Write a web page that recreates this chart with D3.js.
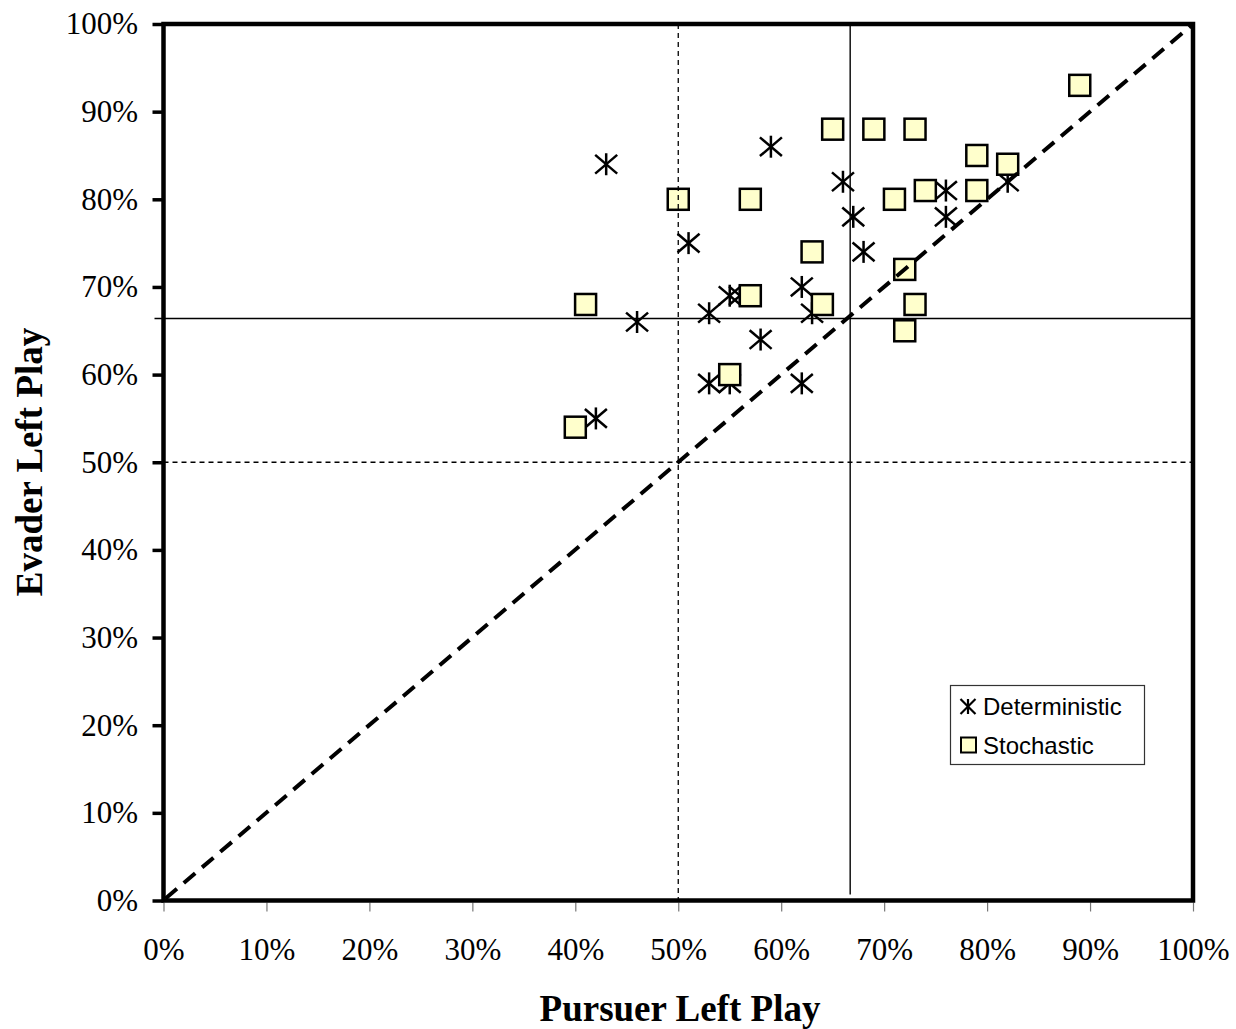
<!DOCTYPE html>
<html>
<head>
<meta charset="utf-8">
<script src="https://cdn.jsdelivr.net/npm/d3@7"></script>
<style>
html,body{margin:0;padding:0;background:#fff;}
svg{display:block;}
</style>
</head>
<body>
<svg id="chart" width="1236" height="1029"></svg>
<script>
// ---- data ----
const xTicks = [0,10,20,30,40,50,60,70,80,90,100];
const yTicks = [0,10,20,30,40,50,60,70,80,90,100];
const detX = [43,59,51,46,53,55,56,58,53,55,62,62,63,42,66,67,68,76,76,82];
const detY = [84,86,75,66,67,69,69,64,59,59,59,70,67,55,82,78,74,81,78,82];
const stoX = [89,65,69,73,79,82,74,79,71,50,57,63,72,57,64,41,73,72,55,40];
const stoY = [93,88,88,88,85,84,81,81,80,80,80,74,72,69,68,68,68,65,60,54];
const refHalf = 50;
const refXLine = 66.7;
const refYLine = 66.4;
const seriesNames = ["Deterministic","Stochastic"];
const xTitle = "Pursuer Left Play";
const yTitle = "Evader Left Play";

const svg = d3.select("#chart");
const x = d3.scaleLinear().domain([0,100]).range([163.5,1193]);
const y = d3.scaleLinear().domain([0,100]).range([900.5,24]);
const serif = "'Liberation Serif','Times New Roman',serif";
const sans = "'Liberation Sans',Arial,sans-serif";

// x axis ticks (thin gray, below)
const xAxis = d3.axisBottom(x).tickValues(xTicks).tickSize(9).tickPadding(26.5).tickFormat(d=>d+"%");
const gx = svg.append("g").attr("transform","translate(0,902.5)").call(xAxis);
gx.select(".domain").remove();
gx.selectAll(".tick line").attr("stroke","#777").attr("stroke-width",1.2);
gx.selectAll(".tick text").attr("font-family",serif).attr("font-size",31).attr("fill","#000");

// y axis ticks (thick, left)
const yAxis = d3.axisLeft(y).tickValues(yTicks).tickSize(11).tickPadding(14.5).tickFormat(d=>d+"%");
const gy = svg.append("g").attr("transform","translate(163.5,0)").call(yAxis);
gy.select(".domain").remove();
gy.selectAll(".tick line").attr("stroke","#000").attr("stroke-width",3.5);
gy.selectAll(".tick text").attr("font-family",serif).attr("font-size",31).attr("fill","#000");

// markers: deterministic asterisks
const s = 11;
const det = svg.append("g");
detX.forEach((v,i)=>{
  const g = det.append("g").attr("transform",`translate(${x(v)},${y(detY[i])})`)
    .attr("stroke","#000").attr("stroke-width",2.5);
  g.append("line").attr("x1",0).attr("y1",-s).attr("x2",0).attr("y2",s);
  g.append("line").attr("x1",-s).attr("y1",-s*0.85).attr("x2",s).attr("y2",s*0.85);
  g.append("line").attr("x1",-s).attr("y1",s*0.85).attr("x2",s).attr("y2",-s*0.85);
});

// markers: stochastic squares
const q = 21;
svg.append("g").selectAll("rect").data(stoX).join("rect")
  .attr("x",d=>x(d)-q/2).attr("y",(d,i)=>y(stoY[i])-q/2)
  .attr("width",q).attr("height",q)
  .attr("fill","#FFFFCC").attr("stroke","#000").attr("stroke-width",2.5);

// reference lines
const lines = svg.append("g");
lines.append("line").attr("x1",x(refHalf)).attr("x2",x(refHalf)).attr("y1",y(100)).attr("y2",y(0))
  .attr("stroke","#000").attr("stroke-width",1.3).attr("stroke-dasharray","5,4");
lines.append("line").attr("x1",x(0)).attr("x2",x(100)).attr("y1",y(refHalf)).attr("y2",y(refHalf))
  .attr("stroke","#000").attr("stroke-width",1.3).attr("stroke-dasharray","5,4");
lines.append("line").attr("x1",x(refXLine)).attr("x2",x(refXLine)).attr("y1",y(100)).attr("y2",y(0)-6)
  .attr("stroke","#000").attr("stroke-width",1.4);
lines.append("line").attr("x1",x(0)-9).attr("x2",x(100)).attr("y1",y(refYLine)).attr("y2",y(refYLine))
  .attr("stroke","#000").attr("stroke-width",1.4);
lines.append("line").attr("x1",x(0)+2).attr("y1",y(0)-2).attr("x2",x(100)).attr("y2",y(100))
  .attr("stroke","#000").attr("stroke-width",4).attr("stroke-dasharray","15,9");

// frame
svg.append("rect").attr("x",x(0)).attr("y",y(100)).attr("width",x(100)-x(0)).attr("height",y(0)-y(100))
  .attr("fill","none").attr("stroke","#000").attr("stroke-width",4.5);

// legend
const lg = svg.append("g");
lg.append("rect").attr("x",950.5).attr("y",685.5).attr("width",194).attr("height",79)
  .attr("fill","#fff").attr("stroke","#333").attr("stroke-width",1.2);
const la = lg.append("g").attr("transform","translate(968,706.5)").attr("stroke","#000").attr("stroke-width",2.2);
const ls = 7.5;
la.append("line").attr("x1",0).attr("y1",-ls).attr("x2",0).attr("y2",ls);
la.append("line").attr("x1",-ls).attr("y1",-ls).attr("x2",ls).attr("y2",ls);
la.append("line").attr("x1",-ls).attr("y1",ls).attr("x2",ls).attr("y2",-ls);
lg.append("rect").attr("x",961).attr("y",737.5).attr("width",15).attr("height",15)
  .attr("fill","#FFFFCC").attr("stroke","#000").attr("stroke-width",2);
lg.append("text").attr("x",983).attr("y",715).text(seriesNames[0])
  .attr("font-family",sans).attr("font-size",24).attr("fill","#000");
lg.append("text").attr("x",983).attr("y",753.5).text(seriesNames[1])
  .attr("font-family",sans).attr("font-size",24).attr("fill","#000");

// axis titles
svg.append("text").attr("x",680).attr("y",1021).attr("text-anchor","middle")
  .attr("font-family",serif).attr("font-weight","bold").attr("font-size",37).text(xTitle);
svg.append("text").attr("transform","translate(42,462) rotate(-90)").attr("text-anchor","middle")
  .attr("font-family",serif).attr("font-weight","bold").attr("font-size",37).text(yTitle);
</script>
</body>
</html>
